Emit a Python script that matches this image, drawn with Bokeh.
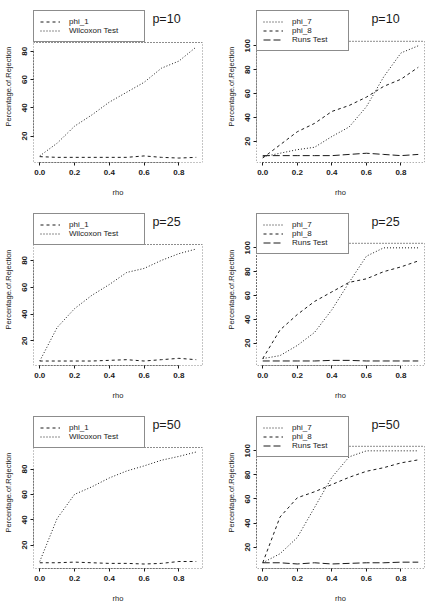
import numpy as np
from bokeh.plotting import figure
from bokeh.layouts import gridplot
from bokeh.models import Legend, LegendItem, Label, FixedTicker, Range1d
from bokeh.embed import file_html
from bokeh.resources import INLINE

rho = [0.0, 0.1, 0.2, 0.3, 0.4, 0.5, 0.6, 0.7, 0.8, 0.9]
x_ticks = [0.0, 0.2, 0.4, 0.6, 0.8]
x_tick_labels = ["0.0", "0.2", "0.4", "0.6", "0.8"]
y_ticks = [20, 40, 60, 80, 100]

# left column: phi_1 vs Wilcoxon
phi_1_p10 = [5.5, 5, 5, 5, 5, 5, 6, 5, 4.5, 5]
wilcoxon_p10 = [6, 15, 27, 35, 44, 51, 58, 68, 73, 83]
phi_1_p25 = [5, 5, 5, 5, 5.5, 6, 5, 6, 7, 6]
wilcoxon_p25 = [5, 30, 44, 54, 62, 71, 74, 80, 85, 88.5]
phi_1_p50 = [6, 6, 6.5, 6, 5.5, 5.5, 5, 5.5, 7, 7]
wilcoxon_p50 = [7, 41, 60, 66, 73, 78.5, 82.5, 87, 90, 93.5]

# right column: phi_7, phi_8, Runs Test
phi_7_p10 = [7, 10, 13, 15, 24, 32, 49, 74, 94, 100]
phi_8_p10 = [6, 17, 28, 35, 45, 50, 57, 66, 72, 82]
runs_p10 = [8, 8, 8, 8, 8, 9, 10, 9, 8, 9]
phi_7_p25 = [7, 9.5, 18, 29, 48, 71, 93, 100, 100, 100]
phi_8_p25 = [7, 31, 44, 55, 63, 71, 74, 80, 84, 89]
runs_p25 = [5, 5, 5, 5, 5.5, 5.5, 5, 5, 5, 5]
phi_7_p50 = [7, 14.5, 28, 53, 78, 95, 100, 100, 100, 100]
phi_8_p50 = [7, 45, 61, 66, 72, 78, 83, 86, 90, 92.5]
runs_p50 = [7, 7, 6, 7, 6, 6.5, 7, 7, 7.5, 7.5]

p_titles = ["p=10", "p=25", "p=50"]

FONT = "Liberation Sans"
INK = "#1a1a1a"
DASH = "3 3"
DOT = "1 2"
LONG = "7 3"

FIG_W, FIG_H = 215, 203
BOTTOM = 41


def r_range(vals):
    lo, hi = min(vals), max(vals)
    ext = 0.04 * (hi - lo)
    return lo - ext, hi + ext


def make_panel(series, title, left, right, top, box_top, label_w, title_cx):
    p = figure(width=FIG_W, height=FIG_H, output_backend="svg", toolbar_location=None,
               min_border_left=left, min_border_right=right,
               min_border_top=top, min_border_bottom=BOTTOM)
    allv = [v for _, ys, _ in series for v in ys]
    y0, y1 = r_range(allv)
    x0, x1 = r_range(rho)
    frame_bottom = FIG_H - BOTTOM
    frame_h = FIG_H - top - BOTTOM
    box_h = frame_bottom - box_top
    # frame extends above the plotting box so that legend and title fit inside it
    p.x_range = Range1d(x0, x1)
    p.y_range = Range1d(y0, y0 + (y1 - y0) * frame_h / box_h)
    p.grid.visible = False
    p.background_fill_color = "white"
    p.border_fill_color = "white"
    p.outline_line_color = None

    # dotted box around the data region (R-style 4% extended range)
    p.quad(left=[x0], right=[x1], bottom=[y0], top=[y1], fill_color=None,
           line_color=INK, line_dash=DOT, line_width=1)

    items = []
    for name, ys, dash in series:
        r = p.line(rho, ys, line_color=INK, line_width=1, line_dash=dash)
        items.append(LegendItem(label=name, renderers=[r]))

    for ax in (p.xaxis[0], p.yaxis[0]):
        ax.axis_line_color = INK
        ax.axis_line_dash = DOT
        ax.major_tick_line_color = INK
        ax.major_tick_out = 3
        ax.major_tick_in = 0
        ax.minor_tick_line_color = None
        ax.major_label_text_font = FONT
        ax.major_label_text_font_size = "8px"
        ax.major_label_text_font_style = "bold"
        ax.major_label_text_color = INK
        ax.axis_label_text_font = FONT
        ax.axis_label_text_font_size = "7.5px"
        ax.axis_label_text_font_style = "normal"
        ax.axis_label_text_color = INK

    xa = p.xaxis[0]
    xa.ticker = FixedTicker(ticks=x_ticks)
    xa.major_label_overrides = dict(zip(x_ticks, x_tick_labels))
    xa.bounds = (x_ticks[0], x_ticks[-1])
    xa.major_label_standoff = 4
    xa.axis_label = "rho"
    xa.axis_label_standoff = 10

    ya = p.yaxis[0]
    shown = [t for t in y_ticks if y0 <= t <= y1]
    ya.ticker = FixedTicker(ticks=shown)
    ya.bounds = (shown[0], shown[-1])
    ya.major_label_orientation = "vertical"
    ya.major_label_standoff = 3
    ya.axis_label = "Percentage.of.Rejection"
    ya.axis_label_standoff = 7

    leg = Legend(items=items, location="top_left",
                 orientation="vertical",
                 border_line_color=INK, border_line_width=1,
                 background_fill_color="white", background_fill_alpha=1.0,
                 label_text_font=FONT, label_text_font_size="8px",
                 label_text_color=INK,
                 glyph_width=20, glyph_height=9, label_height=9,
                 label_width=label_w,
                 label_standoff=9, spacing=0, padding=6, margin=0)
    p.add_layout(leg, "center")

    p.add_layout(Label(x=title_cx - left, y=frame_bottom - 18, x_units="screen", y_units="screen",
                       text=title, text_font=FONT, text_font_size="12.5px",
                       text_color=INK, text_align="center", text_baseline="middle"))
    return p


left_data = [(phi_1_p10, wilcoxon_p10), (phi_1_p25, wilcoxon_p25), (phi_1_p50, wilcoxon_p50)]
right_data = [(phi_7_p10, phi_8_p10, runs_p10), (phi_7_p25, phi_8_p25, runs_p25),
              (phi_7_p50, phi_8_p50, runs_p50)]
box_tops_left = [42, 41, 41]
box_tops_right = [40, 39, 39]

rows = []
for i in range(3):
    a, b = left_data[i]
    pl = make_panel([("phi_1", a, DASH), ("Wilcoxon Test", b, DOT)], p_titles[i],
                    33, 13, 10, box_tops_left[i], 69, 166)
    c, d, e = right_data[i]
    pr = make_panel([("phi_7", c, DOT), ("phi_8", d, DASH), ("Runs Test", e, LONG)], p_titles[i],
                    41, 6, 9, box_tops_right[i], 50, 170)
    rows.append([pl, pr])

g = gridplot(rows, toolbar_location=None)
open("out.html", "w").write(file_html(g, INLINE))
